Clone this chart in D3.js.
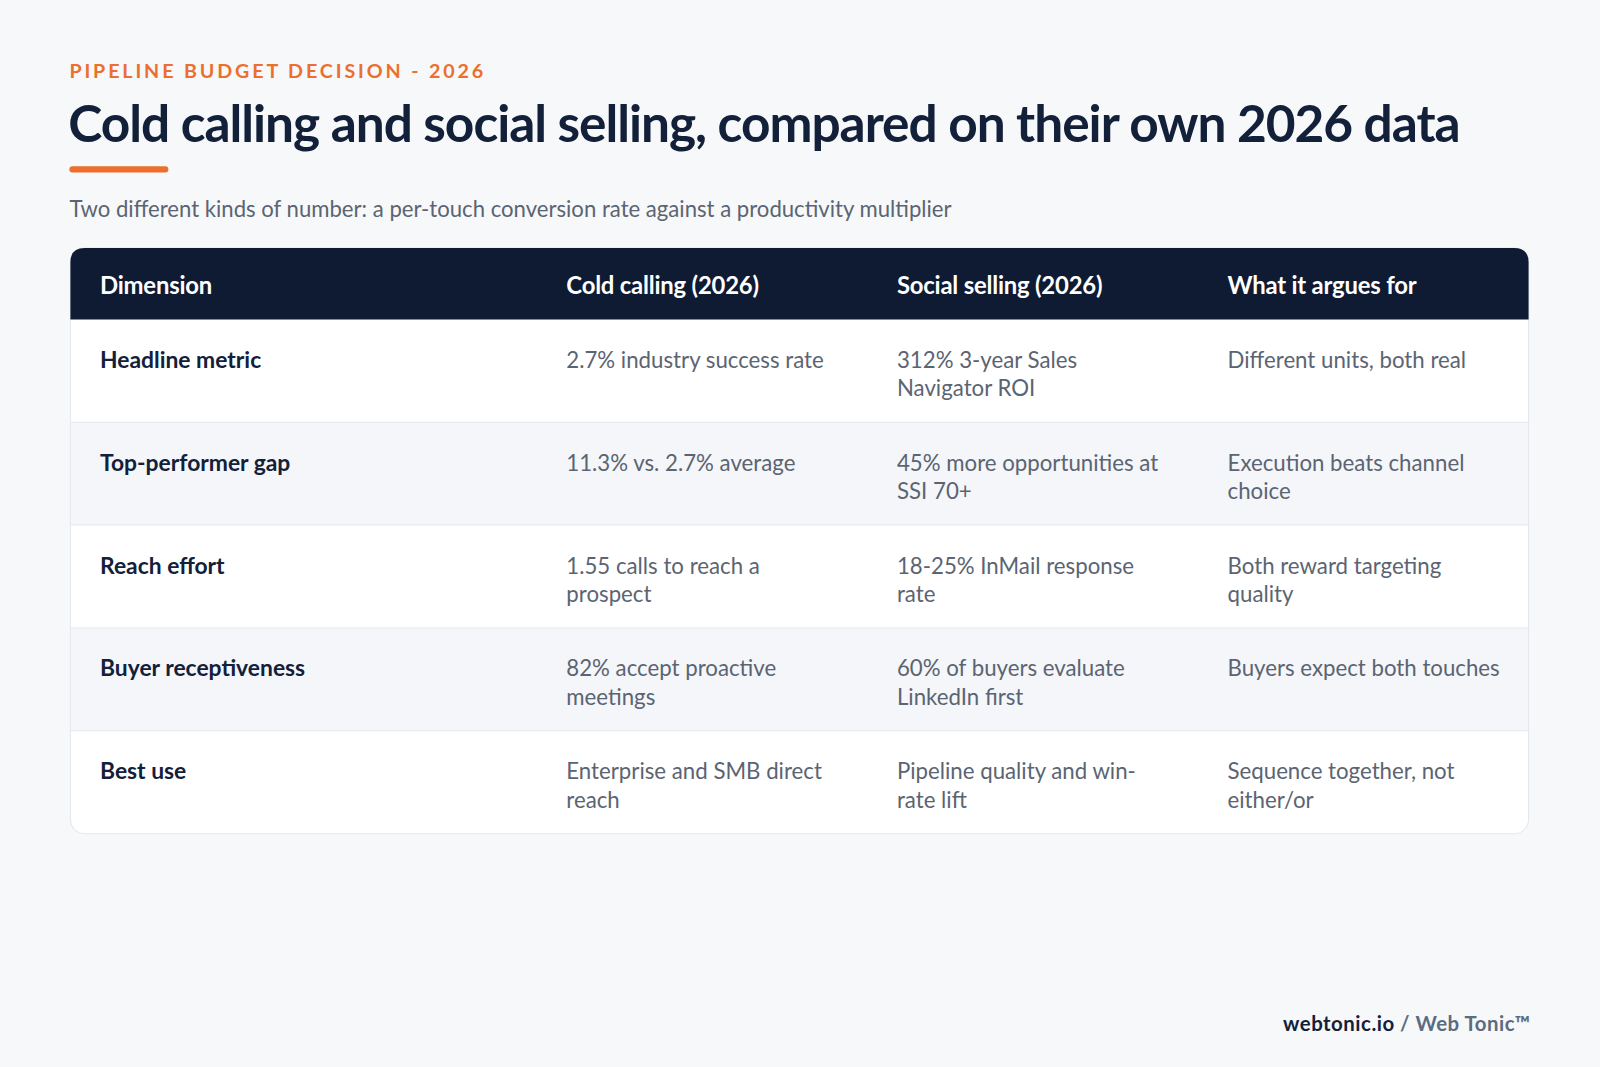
<!DOCTYPE html><html><head><meta charset="utf-8">
<script src="https://cdn.jsdelivr.net/npm/d3@7"></script>
<style>body{margin:0;background:#f6f8fa;}svg{display:block;font-family:Lato,"Noto Sans",sans-serif;}</style>
</head><body><svg id="c" width="1600" height="1067"></svg>
<script>
const eyebrow="PIPELINE BUDGET DECISION - 2026";
const title="Cold calling and social selling, compared on their own 2026 data";
const subtitle="Two different kinds of number: a per-touch conversion rate against a productivity multiplier";
const headers=["Dimension","Cold calling (2026)","Social selling (2026)","What it argues for"];
const dimensions=["Headline metric","Top-performer gap","Reach effort","Buyer receptiveness","Best use"];
const coldCalling=["2.7% industry success rate","11.3% vs. 2.7% average","1.55 calls to reach a prospect","82% accept proactive meetings","Enterprise and SMB direct reach"];
const socialSelling=["312% 3-year Sales Navigator ROI","45% more opportunities at SSI 70+","18-25% InMail response rate","60% of buyers evaluate LinkedIn first","Pipeline quality and win-rate lift"];
const argues=["Different units, both real","Execution beats channel choice","Both reward targeting quality","Buyers expect both touches","Sequence together, not either/or"];

const root=d3.select("#c");
root.append("rect").attr("width",1600).attr("height",1067).attr("fill","#f6f8fa");
const svg=root.append("g").attr("transform",`scale(${1600/1568})`);
svg.append("text").attr("x",68).attr("y",76).text(eyebrow).attr("fill","#ec6f2d").attr("font-size",19.3).attr("font-weight",700).attr("letter-spacing",2.8);
svg.append("text").attr("x",67).attr("y",139).text(title).attr("fill","#13203a").attr("font-size",50.4).attr("font-weight",700).attr("letter-spacing",-1);
svg.append("rect").attr("x",68).attr("y",163).attr("width",97).attr("height",6).attr("rx",3).attr("fill","#ec6f2d");
svg.append("text").attr("x",68).attr("y",213).text(subtitle).attr("fill","#5b6472").attr("font-size",21.7);

const tx=69,tw=1429,ty=243,hh=70,rh=100.8;
const colX=d3.scaleOrdinal().domain(d3.range(4)).range([98,555,879,1203]);
const rowY=d3.scaleBand().domain(d3.range(dimensions.length)).range([ty+hh,ty+hh+rh*dimensions.length]);
const g=svg.append("g");
g.append("rect").attr("x",tx).attr("y",ty).attr("width",tw).attr("height",hh+rh*5).attr("rx",14).attr("fill","#fff").attr("stroke","#e3e7ed");
g.append("path").attr("d",`M${tx},${ty+hh}V${ty+14}Q${tx},${ty} ${tx+14},${ty}H${tx+tw-14}Q${tx+tw},${ty} ${tx+tw},${ty+14}V${ty+hh}Z`).attr("fill","#0f1b33");
headers.forEach((h,i)=>g.append("text").attr("x",colX(i)).attr("y",ty+hh/2+10).text(h).attr("fill","#fff").attr("font-size",23.4).attr("font-weight",700).attr("letter-spacing",-0.2));
const rows=dimensions.map((d,i)=>[d,coldCalling[i],socialSelling[i],argues[i]]);
rows.forEach((r,i)=>{
  const y=rowY(i);
  if(i%2===1) g.append("rect").attr("x",tx+0.5).attr("y",y).attr("width",tw-1).attr("height",rh).attr("fill","#f4f6f9");
  if(i>0) g.append("line").attr("x1",tx).attr("x2",tx+tw).attr("y1",y).attr("y2",y).attr("stroke","#e3e7ed");
  r.forEach((t,j)=>{
    const el=g.append("text").attr("x",colX(j)).attr("y",y+47.5).attr("font-size",j===0?22.4:21.8)
      .attr("fill",j===0?"#13203a":"#5b6472").attr("font-weight",j===0?700:400);
    if(j===0){el.text(t);return;}
    const parts=[];t.split(" ").forEach(w=>{const m=w.split(/(?<=-)(?=[a-z])/);m.forEach((p,k)=>parts.push({p,sp:k===m.length-1}));});
    let line="";let ts=el.append("tspan").attr("x",colX(j)).attr("dy",0);
    parts.forEach(o=>{
      const test=line+o.p;
      ts.text(test);
      if(ts.node().getComputedTextLength()>268&&line){
        ts.text(line.trim());
        ts=el.append("tspan").attr("x",colX(j)).attr("dy",28);line=o.p+(o.sp?" ":"");ts.text(line);
      } else line=test+(o.sp?" ":"");
    });
    ts.text(line.trim());
  });
});
const f=svg.append("text").attr("x",1500).attr("y",1010).attr("text-anchor","end").attr("font-size",20).attr("font-weight",700).attr("letter-spacing",0.5);
f.append("tspan").text("webtonic.io").attr("fill","#13203a");
f.append("tspan").text("  /  Web Tonic™").attr("fill","#5b6b80");
</script></body></html>
